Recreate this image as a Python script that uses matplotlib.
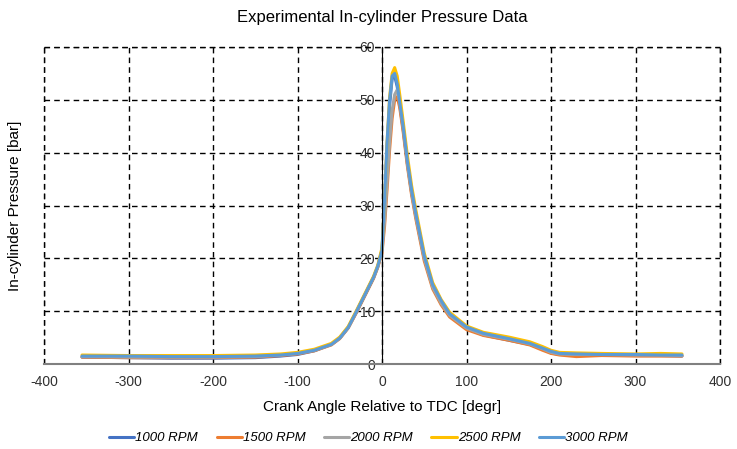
import matplotlib.pyplot as plt

# crank angle [deg] and pressure [bar] per engine speed
crank_angle = [-355, -300, -250, -200, -150, -120, -100, -80, -60, -50, -40, -30, -20, -10, -5,
               0, 3, 6, 9, 12, 15, 18, 21, 25, 30, 35, 40, 50, 60, 70, 80, 100, 120, 150, 175,
               190, 200, 210, 230, 260, 300, 330, 355]

p_1000 = [1.3, 1.2, 1.1, 1.1, 1.2, 1.5, 1.8, 2.5, 3.7, 4.9, 6.9, 9.9, 13.1, 16.3, 18.4,
          21.5, 30.5, 41.0, 49.0, 54.0, 54.5, 52.5, 49.0, 44.5, 38.0, 32.5, 28.0, 20.0, 14.6,
          11.6, 9.2, 6.7, 5.5, 4.5, 3.7, 2.8, 2.1, 1.8, 1.7, 1.7, 1.6, 1.6, 1.5]
p_1500 = [1.3, 1.2, 1.2, 1.2, 1.3, 1.6, 1.9, 2.5, 3.6, 4.8, 6.8, 9.8, 13.0, 16.2, 18.3,
          21.0, 26.0, 33.0, 40.5, 46.5, 50.0, 50.6, 48.5, 44.0, 37.5, 32.0, 27.5, 19.5, 14.2,
          11.2, 8.9, 6.5, 5.4, 4.5, 3.6, 2.6, 2.0, 1.7, 1.4, 1.6, 1.5, 1.5, 1.5]
p_2000 = [1.4, 1.3, 1.3, 1.3, 1.4, 1.7, 2.0, 2.6, 3.7, 4.9, 6.9, 10.0, 13.2, 16.4, 18.5,
          21.5, 27.0, 34.5, 42.0, 48.0, 51.0, 51.9, 49.5, 45.0, 38.0, 32.5, 28.0, 20.0, 14.5,
          11.5, 9.2, 6.8, 5.6, 4.7, 3.8, 2.9, 2.2, 1.9, 1.8, 1.8, 1.7, 1.7, 1.6]
p_2500 = [1.7, 1.6, 1.6, 1.6, 1.7, 1.9, 2.2, 2.8, 3.9, 5.1, 7.1, 10.2, 13.4, 16.6, 18.7,
          22.0, 31.0, 42.0, 50.5, 55.0, 56.1, 54.5, 51.0, 46.0, 39.5, 33.8, 29.2, 21.0, 15.4,
          12.2, 9.8, 7.2, 6.0, 5.1, 4.2, 3.3, 2.6, 2.2, 2.1, 2.0, 1.9, 2.0, 1.9]
p_3000 = [1.5, 1.5, 1.4, 1.4, 1.5, 1.7, 2.0, 2.6, 3.7, 4.9, 6.9, 10.0, 13.2, 16.4, 18.5,
          21.5, 31.0, 42.0, 50.0, 54.5, 55.0, 53.0, 49.5, 45.0, 38.5, 33.0, 28.5, 20.5, 15.0,
          12.0, 9.5, 7.0, 5.8, 4.8, 3.9, 3.0, 2.4, 2.0, 1.9, 1.8, 1.8, 1.7, 1.7]

series = [("1000 RPM", p_1000, "#4472C4"),
          ("1500 RPM", p_1500, "#ED7D31"),
          ("2000 RPM", p_2000, "#A5A5A5"),
          ("2500 RPM", p_2500, "#FFC000"),
          ("3000 RPM", p_3000, "#5B9BD5")]

plt.rcParams['font.family'] = ['Liberation Sans', 'DejaVu Sans']
plt.rcParams['axes.unicode_minus'] = False

fig = plt.figure(figsize=(7.37, 4.49), dpi=100)
ax = fig.add_axes([44 / 737, 1 - 364 / 449, (720 - 44) / 737, (364 - 47) / 449])

for name, vals, col in series:
    ax.plot(crank_angle, vals, color=col, lw=2.2, label=name,
            solid_capstyle='round', solid_joinstyle='round')

ax.set_xlim(-400, 400)
ax.set_ylim(0, 60)
ax.set_xticks(range(-400, 401, 100))
ax.set_yticks(range(0, 61, 10))
ax.grid(True, color='black', linestyle=(0, (4, 3)), linewidth=1)
ax.set_axisbelow(True)

ax.spines['top'].set_visible(False)
ax.spines['right'].set_visible(False)
ax.spines['left'].set_position(('data', 0))
ax.spines['left'].set_color('black')
ax.spines['bottom'].set_color('#808080')
ax.spines['bottom'].set_linewidth(1.5)

# dashed outer frame like the original
ax.axvline(-400, color='black', linestyle=(0, (4, 3)), lw=1, clip_on=False)
ax.axvline(400, color='black', linestyle=(0, (4, 3)), lw=1, clip_on=False)
ax.axhline(60, color='black', linestyle=(0, (4, 3)), lw=1, clip_on=False)

ax.tick_params(axis='both', length=0, labelsize=10, colors='#303030')
ax.tick_params(axis='x', pad=8)
ax.tick_params(axis='y', pad=5)

ax.set_title("Experimental In-cylinder Pressure Data", fontsize=12, pad=18)
ax.set_xlabel("Crank Angle Relative to TDC [degr]", fontsize=11, labelpad=8)
ax.set_ylabel("In-cylinder Pressure [bar]", fontsize=11)
ax.yaxis.set_label_coords(-0.032, 0.5)

fig.legend(loc='center', bbox_to_anchor=(0.5, 1 - 438 / 449), ncol=5,
           frameon=False, handlelength=1.9, handletextpad=0.1, columnspacing=1.4,
           prop={'style': 'italic', 'size': 9.5})

fig.savefig("out.png", dpi=100)
